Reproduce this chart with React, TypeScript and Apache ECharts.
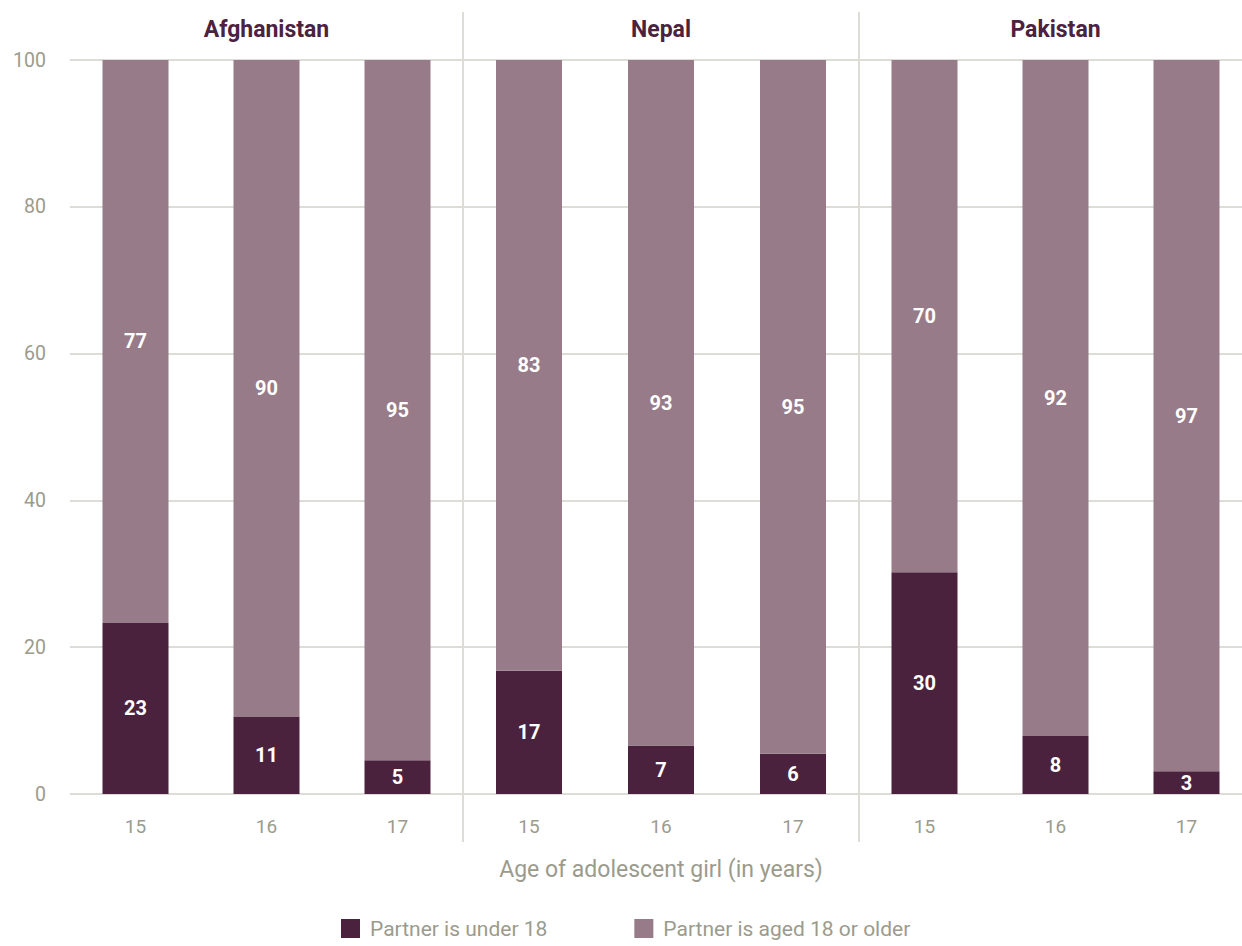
import React, { useEffect, useRef } from "react";
import * as echarts from "echarts";

const countries = ["Afghanistan", "Nepal", "Pakistan"];
const ages = ["15", "16", "17"];
// percentage of married girls whose partner is under 18 (per country, ages 15/16/17)
const partnerUnder18 = [
  [23.3, 10.5, 4.6],
  [16.8, 6.6, 5.5],
  [30.2, 7.9, 3.1],
];
// percentage whose partner is aged 18 or older
const partnerAged18Plus = [
  [76.7, 89.5, 95.4],
  [83.2, 93.4, 94.5],
  [69.8, 92.1, 96.9],
];
const yTicks = [0, 20, 40, 60, 80, 100];

const DARK = "#4a223d";
const LIGHT = "#977b89";
const GRID = "#dddcd6";
const TEXT = "#9b9b8d";
const TITLE = "#4b2240";
const FONT = "Roboto";

const panelLefts = [70, 463, 859];
const panelWidths = [393, 396, 393];

export default function App() {
  const ref = useRef<HTMLDivElement>(null);

  useEffect(() => {
    if (!ref.current) return;
    const chart = echarts.init(ref.current, null, { renderer: "svg" });

    const grids = countries.map((_, i) => ({
      left: panelLefts[i],
      width: panelWidths[i],
      top: 60,
      height: 734,
      containLabel: false,
    }));

    const xAxes = countries.map((_, i) => ({
      type: "category",
      gridIndex: i,
      data: ages,
      axisLine: { show: false },
      axisTick: { show: false },
      axisLabel: { color: TEXT, fontSize: 19, fontFamily: FONT, margin: 23 },
    }));

    const yAxes = countries.map((_, i) => ({
      type: "value",
      gridIndex: i,
      min: yTicks[0],
      max: yTicks[yTicks.length - 1],
      interval: 20,
      axisLine: { show: false },
      axisTick: { show: false },
      axisLabel: {
        show: i === 0,
        color: TEXT,
        fontSize: 19.5,
        fontFamily: FONT,
        margin: 24,
      },
      splitLine: { show: true, lineStyle: { color: GRID, width: 2 } },
    }));

    const labelCfg = {
      show: true,
      position: "inside",
      color: "#ffffff",
      fontSize: 20,
      fontWeight: "bold",
      fontFamily: FONT,
      formatter: (p: any) => String(Math.round(p.value)),
    };

    const series: any[] = [];
    countries.forEach((c, i) => {
      series.push({
        type: "bar",
        name: "Partner is under 18",
        xAxisIndex: i,
        yAxisIndex: i,
        stack: "s" + i,
        barWidth: 66,
        data: partnerUnder18[i],
        itemStyle: { color: DARK },
        label: labelCfg,
      });
      series.push({
        type: "bar",
        name: "Partner is aged 18 or older",
        xAxisIndex: i,
        yAxisIndex: i,
        stack: "s" + i,
        barWidth: 66,
        data: partnerAged18Plus[i],
        itemStyle: { color: LIGHT },
        label: labelCfg,
      });
    });

    const graphics: any[] = [];
    [463, 859].forEach((x) => {
      graphics.push({
        type: "line",
        shape: { x1: x, y1: 12, x2: x, y2: 842 },
        style: { stroke: GRID, lineWidth: 2 },
        z: 10,
      });
    });
    countries.forEach((c, i) => {
      graphics.push({
        type: "text",
        x: panelLefts[i] + panelWidths[i] / 2,
        y: 29,
        style: {
          text: c,
          fill: TITLE,
          font: `bold 23px ${FONT}`,
          textAlign: "center",
          textVerticalAlign: "middle",
        },
      });
    });
    graphics.push({
      type: "text",
      x: 661,
      y: 869,
      style: {
        text: "Age of adolescent girl (in years)",
        fill: TEXT,
        font: `23px ${FONT}`,
        textAlign: "center",
        textVerticalAlign: "middle",
      },
    });

    chart.setOption({
      animation: false,
      grid: grids,
      xAxis: xAxes,
      yAxis: yAxes,
      series,
      graphic: graphics,
      legend: {
        left: 341,
        top: 918,
        padding: 0,
        itemWidth: 19,
        itemHeight: 19,
        itemGap: 87,
        icon: "rect",
        data: ["Partner is under 18", "Partner is aged 18 or older"],
        textStyle: {
          color: TEXT,
          fontSize: 21,
          fontFamily: FONT,
          padding: [0, 0, 0, 5],
        },
        selectedMode: false,
      },
    });

    return () => chart.dispose();
  }, []);

  return (
    <div
      style={{
        position: "absolute",
        left: 0,
        top: 0,
        width: 1242,
        height: 946,
        overflow: "hidden",
      }}
    >
      <div ref={ref} style={{ width: 1270, height: 946 }} />
    </div>
  );
}
